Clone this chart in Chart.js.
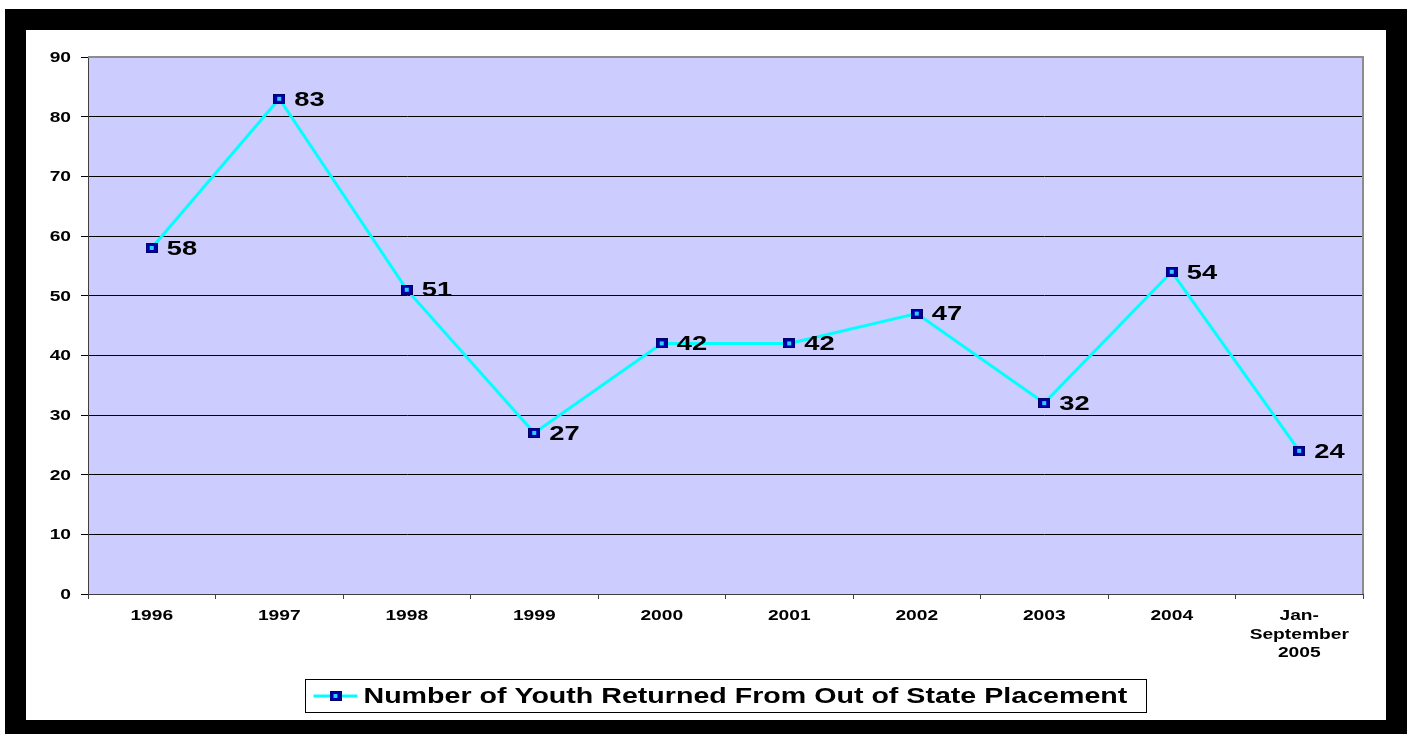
<!DOCTYPE html>
<html>
<head>
<meta charset="utf-8">
<script src="https://cdn.jsdelivr.net/npm/chart.js@4.4.0/dist/chart.umd.min.js"></script>
<style>
  html, body { margin: 0; padding: 0; background: #fff; }
  #frame {
    position: absolute; left: 5px; top: 9px; width: 1402px; height: 740px;
    background: #000;
  }
  #inner {
    position: absolute; left: 21px; top: 21px; width: 1360px; height: 690px;
    background: #fff;
  }
  canvas { display: block; }
</style>
</head>
<body>
<div id="frame">
  <div id="inner">
    <canvas id="chart" width="1360" height="690"></canvas>
  </div>
</div>
<script>
const categories = ['1996', '1997', '1998', '1999', '2000', '2001', '2002', '2003', '2004', ['Jan-', 'September', '2005']];
const youthReturned = [58, 83, 51, 27, 42, 42, 47, 32, 54, 24];
const seriesLabel = 'Number of Youth Returned From Out of State Placement';
const yTicks = { min: 0, max: 90, step: 10 };

const FONT = '"Liberation Sans", Arial, sans-serif';
// the source picture is stretched sideways, so its text is wider than normal Arial
const STRETCH = 1.28;

// Excel style square marker: navy box with a small cyan star inside
function makeMarker() {
  const c = document.createElement('canvas');
  c.width = 12; c.height = 10;
  const g = c.getContext('2d');
  g.fillStyle = '#000066';
  g.fillRect(0, 0, 12, 10);
  g.fillStyle = '#0000a8';
  g.fillRect(1, 1, 10, 8);
  g.fillStyle = '#33ccff';
  g.fillRect(5, 3, 2, 4);
  g.fillRect(4, 3, 1, 1); g.fillRect(7, 3, 1, 1);
  g.fillRect(4, 6, 1, 1); g.fillRect(7, 6, 1, 1);
  g.fillRect(4, 4, 4, 2);
  return c;
}
const marker = makeMarker();

// draw text squeezed/stretched horizontally around its anchor
function wideText(ctx, text, x, y, align, sx) {
  const w = ctx.measureText(text).width * sx;
  let left = x;
  if (align === 'center') left = x - w / 2;
  else if (align === 'right') left = x - w;
  ctx.save();
  ctx.translate(left, y);
  ctx.scale(sx, 1);
  ctx.textAlign = 'left';
  ctx.fillText(text, 0, 0);
  ctx.restore();
  return w;
}

const plotBackground = {
  id: 'plotBackground',
  beforeDraw(chart) {
    const { ctx, chartArea: a } = chart;
    ctx.save();
    ctx.fillStyle = '#ccccff';
    ctx.fillRect(a.left, a.top, a.right - a.left, a.bottom - a.top);
    ctx.restore();
  },
  afterDatasetsDraw(chart) {
    const { ctx, chartArea: a } = chart;
    // gray frame on top and right
    ctx.save();
    ctx.strokeStyle = '#8c8c8c';
    ctx.lineWidth = 2;
    ctx.beginPath();
    ctx.moveTo(a.left, a.top);
    ctx.lineTo(a.right, a.top);
    ctx.lineTo(a.right, a.bottom);
    ctx.stroke();
    ctx.restore();
  }
};

// tick labels, placed with the chart's own scales
const axisLabels = {
  id: 'axisLabels',
  afterDraw(chart) {
    const { ctx, chartArea: a } = chart;
    const xs = chart.scales.x, ys = chart.scales.y;
    ctx.save();
    ctx.fillStyle = '#000';
    ctx.font = 'bold 15px ' + FONT;
    ctx.textBaseline = 'middle';
    for (let v = yTicks.min; v <= yTicks.max; v += yTicks.step) {
      wideText(ctx, String(v), a.left - 17, ys.getPixelForValue(v) + 1, 'right', STRETCH);
    }
    categories.forEach((lab, i) => {
      const lines = Array.isArray(lab) ? lab : [lab];
      const x = xs.getPixelForValue(i);
      lines.forEach((ln, j) => {
        wideText(ctx, ln, x, a.bottom + 22 + j * 18.5, 'center', STRETCH);
      });
    });
    ctx.restore();
  }
};

const valueLabels = {
  id: 'valueLabels',
  afterDatasetsDraw(chart) {
    const { ctx } = chart;
    const meta = chart.getDatasetMeta(0);
    ctx.save();
    ctx.font = 'bold 21px ' + FONT;
    ctx.fillStyle = '#000';
    ctx.textBaseline = 'middle';
    meta.data.forEach((pt, i) => {
      wideText(ctx, String(youthReturned[i]), pt.x + 15, pt.y + 1, 'left', 1.3);
    });
    ctx.restore();
  }
};

const boxedLegend = {
  id: 'boxedLegend',
  afterDraw(chart) {
    const { ctx, chartArea: a } = chart;
    ctx.save();
    ctx.font = 'bold 22px ' + FONT;
    const tw = ctx.measureText(seriesLabel).width * 1.3;
    const w = Math.round(tw + 77);
    const h = 33;
    const left = Math.round((a.left + a.right) / 2 - w / 2) + 0.5;
    const top = a.bottom + 85.5;
    ctx.strokeStyle = '#000';
    ctx.lineWidth = 1;
    ctx.strokeRect(left, top, w, h);
    const cy = top + h / 2;
    ctx.strokeStyle = '#00ffff';
    ctx.lineWidth = 3;
    ctx.beginPath();
    ctx.moveTo(left + 8, cy);
    ctx.lineTo(left + 52, cy);
    ctx.stroke();
    ctx.drawImage(marker, left + 24, cy - 5);
    ctx.fillStyle = '#000';
    ctx.textBaseline = 'middle';
    wideText(ctx, seriesLabel, left + 58, cy + 1, 'left', 1.3);
    ctx.restore();
  }
};

new Chart(document.getElementById('chart'), {
  type: 'line',
  data: {
    labels: categories,
    datasets: [{
      label: seriesLabel,
      data: youthReturned,
      borderColor: '#00ffff',
      borderWidth: 3,
      tension: 0,
      pointStyle: marker,
      pointRadius: 6,
      pointHoverRadius: 6
    }]
  },
  options: {
    responsive: false,
    animation: false,
    events: [],
    layout: { padding: { left: 0, right: 23, top: 27, bottom: 0 } },
    plugins: {
      legend: { display: false },
      tooltip: { enabled: false }
    },
    scales: {
      x: {
        offset: true,
        border: { color: '#404040', width: 1 },
        grid: {
          offset: true,
          drawOnChartArea: false,
          drawTicks: true,
          tickLength: 5,
          color: '#404040'
        },
        ticks: { display: false, autoSkip: false },
        afterFit(scale) { scale.height = 126; }
      },
      y: {
        min: yTicks.min,
        max: yTicks.max,
        border: { color: '#404040', width: 1 },
        grid: {
          color: '#000',
          lineWidth: 1,
          tickLength: 7
        },
        ticks: { display: false, stepSize: yTicks.step },
        afterFit(scale) { scale.width = 62; }
      }
    }
  },
  plugins: [plotBackground, valueLabels, axisLabels, boxedLegend]
});
</script>
</body>
</html>
